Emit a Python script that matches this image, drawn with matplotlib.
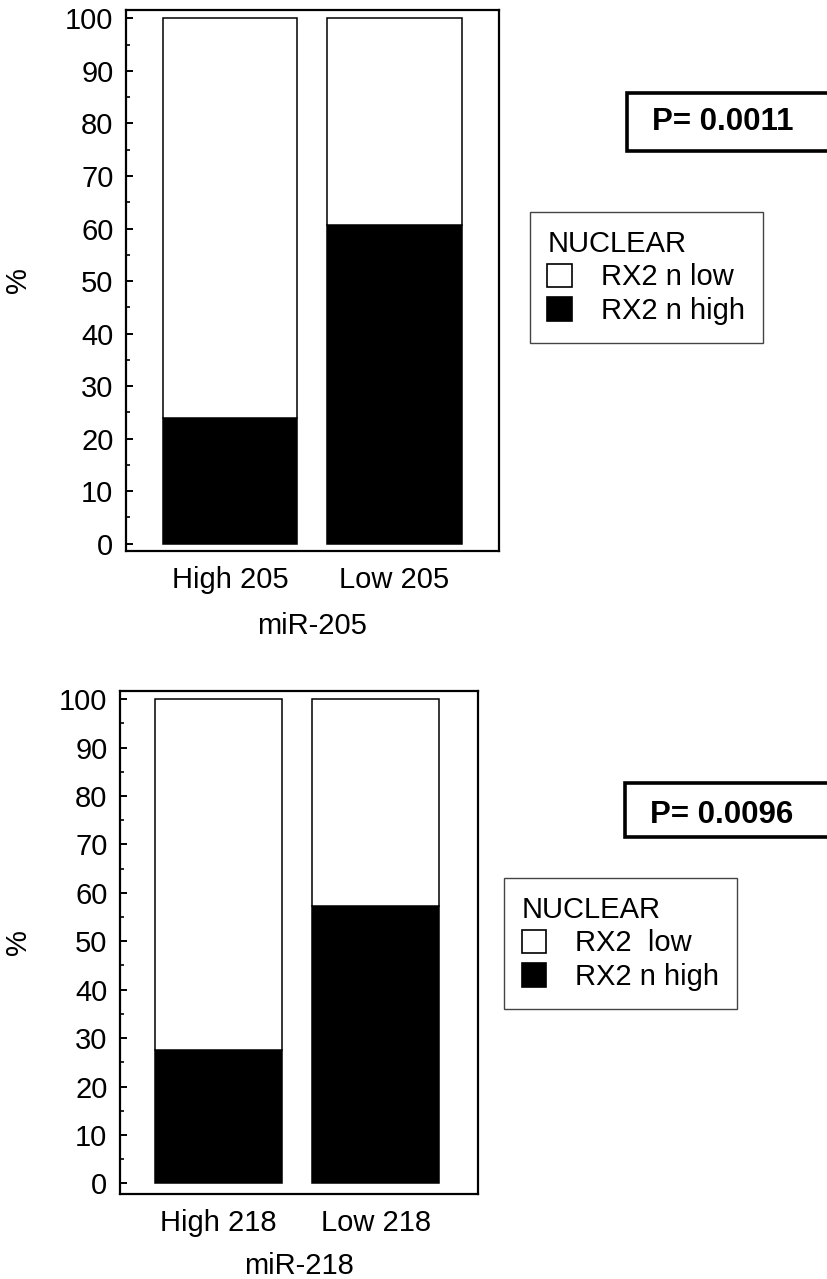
import matplotlib
matplotlib.use('Agg')
import matplotlib.pyplot as plt
from matplotlib.patches import Rectangle

plt.rcParams['font.family'] = ['Liberation Sans', 'DejaVu Sans']

# data
groups_205 = ['High 205', 'Low 205']
high_205 = [23.9, 60.6]
low_205 = [76.1, 39.4]
labels_205 = ['RX2 n low', 'RX2 n high']
p_205 = 'P= 0.0011'

groups_218 = ['High 218', 'Low 218']
high_218 = [27.6, 57.2]
low_218 = [72.4, 42.8]
labels_218 = ['RX2  low', 'RX2 n high']
p_218 = 'P= 0.0096'

W, H = 828, 1279
FS = 21
fig = plt.figure(figsize=(W / 100, H / 100), dpi=100)


def px_box(left, top, right, bottom):
    return [left / W, 1 - bottom / H, (right - left) / W, (bottom - top) / H]


def panel(rect, groups, high, low, labels, xlabel, ylim, xlim, width,
          ylab_x, xlab_y, leg_xy, pbox, ptext_xy, ptext):
    ax = fig.add_axes(px_box(*rect))
    x = range(len(groups))
    ax.bar(x, high, width=width, color='black', edgecolor='black', linewidth=1.1,
           label=labels[1])
    ax.bar(x, low, width=width, bottom=high, color='white', edgecolor='black',
           linewidth=1.1, label=labels[0])
    ax.set_xlim(*xlim)
    ax.set_ylim(*ylim)
    ax.set_yticks(range(0, 101, 10))
    ax.set_yticks(range(5, 100, 10), minor=True)
    ax.set_xticks(list(x))
    ax.set_xticklabels(groups)
    ax.tick_params(axis='y', which='major', direction='in', length=5, width=1.4,
                   pad=9, labelsize=FS)
    ax.tick_params(axis='y', which='minor', direction='in', length=3, width=1.2)
    ax.tick_params(axis='x', length=0, pad=11, labelsize=FS)
    for s in ax.spines.values():
        s.set_linewidth(1.6)
    ax.set_ylabel('%', fontsize=FS)
    ax.yaxis.set_label_coords(ylab_x, 0.5)
    ax.set_xlabel(xlabel, fontsize=FS)
    ax.xaxis.set_label_coords(0.5, xlab_y)

    h, l = ax.get_legend_handles_labels()
    leg = fig.legend(h[::-1], l[::-1], title='NUCLEAR', loc='upper left',
                     bbox_to_anchor=(leg_xy[0] / W, 1 - leg_xy[1] / H),
                     borderaxespad=0, fontsize=FS, title_fontsize=FS,
                     alignment='left', fancybox=False, edgecolor='#444444',
                     framealpha=1, handlelength=0.85, handleheight=0.85,
                     handletextpad=1.0, labelspacing=0.2, borderpad=0.6)
    leg.get_frame().set_linewidth(1.0)
    for p in leg.get_patches():
        p.set_linewidth(1.2)

    l0, t0, b0 = pbox
    fig.patches.append(Rectangle((l0 / W, 1 - b0 / H), 1.1 - l0 / W, (b0 - t0) / H,
                                 transform=fig.transFigure, facecolor='white',
                                 edgecolor='black', linewidth=2.6, clip_on=False))
    fig.text(ptext_xy[0] / W, 1 - ptext_xy[1] / H, ptext, fontsize=22.5,
             fontweight='bold', ha='left', va='center')
    return ax


panel((126, 10, 499, 551), groups_205, high_205, low_205, labels_205, 'miR-205',
      (-1.4, 101.6), (-0.632, 1.635), 0.815, -0.252, -0.113,
      (530, 212), (627, 93, 151), (652, 122), p_205)

panel((120, 691, 478, 1194), groups_218, high_218, low_218, labels_218, 'miR-218',
      (-2.2, 101.7), (-0.625, 1.648), 0.806, -0.246, -0.115,
      (504, 878), (625, 783, 837), (650, 815), p_218)

fig.savefig('out.png', dpi=100)
